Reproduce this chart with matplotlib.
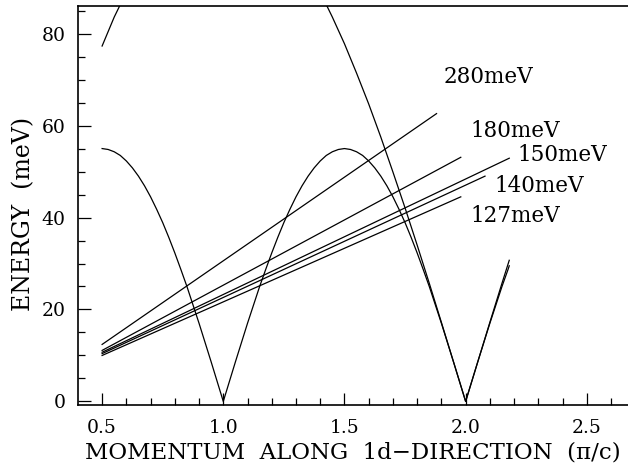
import numpy as np
import matplotlib
matplotlib.use('Agg')
import matplotlib.pyplot as plt
from matplotlib.ticker import MultipleLocator

plt.rcParams['font.family'] = ['DejaVu Serif']

# lower boundary of the continuum (every 0.025)
low_q = list(np.round(np.arange(0.5, 2.176, 0.025), 3)) + [2.18]
low_e = [55.0, 54.8, 54.3, 53.5, 52.3, 50.8, 49.0, 46.9, 44.5, 41.8,
         38.9, 35.7, 32.3, 28.7, 25.0, 21.0, 17.0, 12.8, 8.6, 4.3, 0.0,
         4.3, 8.6, 12.8, 17.0, 21.0, 25.0, 28.7, 32.3, 35.7, 38.9,
         41.8, 44.5, 46.9, 49.0, 50.8, 52.3, 53.5, 54.3, 54.8, 55.0,
         54.8, 54.3, 53.5, 52.3, 50.8, 49.0, 46.9, 44.5, 41.8, 38.9,
         35.7, 32.3, 28.7, 25.0, 21.0, 17.0, 12.8, 8.6, 4.3, 0.0,
         4.3, 8.6, 12.8, 17.0, 21.0, 25.0, 28.7, 29.5]

# upper boundary, runs off the top of the frame
up_left_q = [0.50, 0.55, 0.60, 0.65]
up_left_e = [77.3, 83.6, 89.0, 93.8]
up_right_q = [1.35, 1.40, 1.45, 1.50, 1.55, 1.60, 1.65, 1.70, 1.75, 1.80,
              1.85, 1.90, 1.95, 2.00, 2.05, 2.10, 2.15, 2.18]
up_right_e = [93.8, 89.0, 83.6, 77.8, 71.4, 64.7, 57.5, 49.9, 42.1, 34.0,
              25.7, 17.2, 8.6, 0.0, 8.6, 17.2, 25.7, 30.7]

# scan trajectories for the incident energies
scan_labels = ['280meV', '180meV', '150meV', '140meV', '127meV']
scan_q0 = [0.5, 0.5, 0.5, 0.5, 0.5]
scan_e0 = [12.4, 11.1, 10.7, 10.4, 10.0]
scan_q1 = [1.88, 1.98, 2.18, 2.08, 1.98]
scan_e1 = [62.6, 53.1, 52.9, 49.0, 44.5]
label_q = [1.91, 2.02, 2.215, 2.12, 2.02]
label_e = [70.5, 58.9, 53.5, 46.8, 40.3]

fig = plt.figure(figsize=(6.28, 4.63), dpi=100)
ax = fig.add_axes([0.124, 0.125, 0.876, 0.862])

lw = 0.9
ax.plot(low_q, low_e, color='black', lw=lw)
ax.plot(up_left_q, up_left_e, color='black', lw=lw)
ax.plot(up_right_q, up_right_e, color='black', lw=lw)
for i in range(len(scan_labels)):
    ax.plot([scan_q0[i], scan_q1[i]], [scan_e0[i], scan_e1[i]], color='black', lw=lw)
    ax.text(label_q[i], label_e[i], scan_labels[i], fontsize=15.5,
            ha='left', va='center')

ax.set_xlim(0.4, 2.67)
ax.set_ylim(-0.8, 86)
ax.spines['right'].set_visible(False)
for s in ['left', 'top', 'bottom']:
    ax.spines[s].set_linewidth(1.2)

ax.set_xticks([0.5, 1.0, 1.5, 2.0, 2.5])
ax.set_xticklabels(['0.5', '1.0', '1.5', '2.0', '2.5'])
ax.set_xticks(np.arange(0.5, 2.65, 0.1), minor=True)
ax.yaxis.set_major_locator(MultipleLocator(20))
ax.yaxis.set_minor_locator(MultipleLocator(5))
ax.tick_params(which='both', direction='in', labelsize=13.5, width=0.9)
ax.tick_params(which='major', length=9, pad=9)
ax.tick_params(which='minor', length=5)
ax.tick_params(axis='x', top=False, pad=10)

ax.set_xlabel('MOMENTUM  ALONG  1d\u2212DIRECTION  (\u03c0/c)', fontsize=16.5, labelpad=3)
ax.set_ylabel('ENERGY  (meV)', fontsize=17)
ax.yaxis.set_label_coords(-0.078, 0.48)

fig.savefig('out.png', dpi=100)
